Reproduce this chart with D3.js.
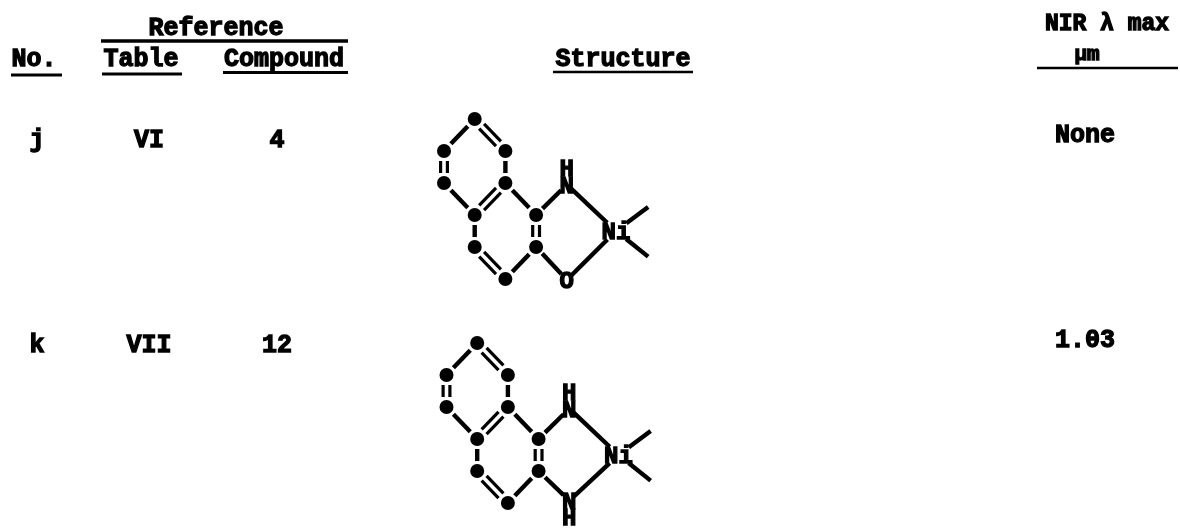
<!DOCTYPE html>
<html>
<head>
<meta charset="utf-8">
<script src="https://cdn.jsdelivr.net/npm/d3@7"></script>
<style>
body { margin: 0; background: #fff; }
text { font-family: "Liberation Mono", monospace; font-weight: bold; fill: #000; stroke: #000; stroke-width: 1.3px; }
</style>
</head>
<body>
<script>
const panel_width = 1180;
const panel_height = 528;

// Table contents
const rowIds = ["j", "k"];
const rowTables = ["VI", "VII"];
const rowCompounds = ["4", "12"];
const rowNir = ["None", "1.03"];

// Atoms in lattice units: [col, row]
const ringAtoms = [[1, 0], [2, 1], [2, 2], [1, 3], [0, 2], [0, 1], [3, 3], [3, 4], [2, 5], [1, 4]];
const singleBonds = [[0, 5], [1, 2], [3, 4], [2, 6], [3, 9], [7, 8]];
const doubleBonds = [[0, 1], [4, 5], [2, 3], [6, 7], [8, 9]];

// Lattice spots for the chelate part
const nTop = [4, 2.05];
const niPos = [5.6, 3.5];
const stubEnds = [[6.65, 2.75], [6.65, 4.3]];
const bottomAtoms = [
    [{ label: "O", col: 4, row: 5.03 }],
    [{ label: "N", col: 4, row: 4.93 }, { label: "H", col: 4, row: 5.45 }]
];

const x = d3.scaleLinear().domain([0, 1]).range([444, 474.7]);
const y = d3.scaleLinear().domain([0, 1]).range([119, 151]);
const rowOffset = d3.scaleOrdinal().domain(rowIds).range([[0, 0], [2.5, 224]]);

const svg = d3.select("body")
    .append("svg")
    .attr("width", panel_width)
    .attr("height", panel_height)
    .style("display", "block");

const blur = svg.append("defs").append("filter").attr("id", "scan");
blur.append("feGaussianBlur").attr("stdDeviation", 0.6);

const page = svg.append("g").attr("filter", "url(#scan)");

function label(text, cx, base, size) {
    return page.append("text")
        .attr("x", cx)
        .attr("y", base)
        .attr("text-anchor", "middle")
        .attr("font-size", size + "px")
        .text(text);
}

function rule(x1, x2, yy, width) {
    page.append("line")
        .attr("x1", x1).attr("x2", x2)
        .attr("y1", yy).attr("y2", yy)
        .attr("stroke", "#000")
        .attr("stroke-width", width);
}

// Header
label("Reference", 216, 35, 25);
rule(101, 348, 41, 3.5);
label("No.", 34, 66, 25);
rule(11, 62, 75, 3);
label("Table", 141, 66, 25);
rule(102, 182, 74, 3);
label("Compound", 284, 66, 25);
rule(223, 348, 72.5, 3);
label("Structure", 623, 66, 25);
rule(553, 693, 72, 2.5);
label("NIR λ max", 1107, 30, 23);
label("μm", 1087, 60, 21);
rule(1037, 1178, 68, 2.5);

// Rows
const rowBase = [147, 352];
const nirBase = [142, 347];
const colCenters = [37, 149, 277, 1085];

rowIds.forEach((id, i) => {
    label(id, colCenters[0], rowBase[i], 25);
    label(rowTables[i], colCenters[1], rowBase[i], 25);
    label(rowCompounds[i], colCenters[2], rowBase[i], 25);
    label(rowNir[i], colCenters[3], nirBase[i], 25);
    drawStructure(i);
});

function drawStructure(i) {
    const [dx, dy] = rowOffset(rowIds[i]);
    const mol = page.append("g").attr("transform", `translate(${dx},${dy})`);
    const px = p => [x(p[0]), y(p[1])];

    // Draws part of a segment, trimmed at each end, optionally pushed sideways
    function bond(a, b, trimA, trimB, side, width) {
        const [x1, y1] = px(a);
        const [x2, y2] = px(b);
        const len = Math.hypot(x2 - x1, y2 - y1);
        const ux = (x2 - x1) / len;
        const uy = (y2 - y1) / len;
        mol.append("line")
            .attr("x1", x1 + ux * trimA - uy * side)
            .attr("y1", y1 + uy * trimA + ux * side)
            .attr("x2", x2 - ux * trimB - uy * side)
            .attr("y2", y2 - uy * trimB + ux * side)
            .attr("stroke", "#000")
            .attr("stroke-width", width || 4.4);
    }

    singleBonds.forEach(([a, b]) => bond(ringAtoms[a], ringAtoms[b], 10, 10, 0));
    doubleBonds.forEach(([a, b]) => {
        bond(ringAtoms[a], ringAtoms[b], 10, 10, 3.4, 3.2);
        bond(ringAtoms[a], ringAtoms[b], 10, 10, -3.4, 3.2);
    });

    const bottom = bottomAtoms[i][0];
    const bottomPos = [bottom.col, bottom.row];

    bond(ringAtoms[6], nTop, 9, 8, 0);
    bond(ringAtoms[7], bottomPos, 9, 8, 0);
    bond(nTop, niPos, 6, 12, 0);
    bond(bottomPos, niPos, 6, 12, 0);
    stubEnds.forEach(end => bond(niPos, end, 13, 0, 0));

    mol.selectAll("circle")
        .data(ringAtoms)
        .join("circle")
        .attr("cx", d => x(d[0]))
        .attr("cy", d => y(d[1]))
        .attr("r", 7)
        .attr("fill", "#000");

    const atomLabel = (t, col, row) => mol.append("text")
        .attr("x", x(col))
        .attr("y", y(row) + 8)
        .attr("text-anchor", "middle")
        .attr("font-size", "24px")
        .text(t);

    atomLabel("N", nTop[0], nTop[1]);
    atomLabel("H", nTop[0], nTop[1] - 0.52);
    atomLabel("Ni", niPos[0], niPos[1]);
    bottomAtoms[i].forEach(a => atomLabel(a.label, a.col, a.row));
}
</script>
</body>
</html>
